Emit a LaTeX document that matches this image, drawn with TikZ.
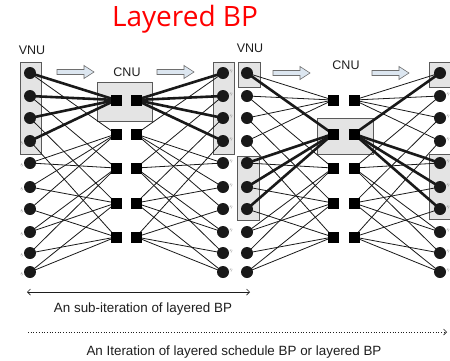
\documentclass[tikz,border=0pt]{standalone}
\usepackage{fontspec}
\setmainfont{Liberation Sans}
\newfontfamily\titlefont{Open Sans}
\usetikzlibrary{arrows.meta}
\definecolor{boxfill}{HTML}{E4E4E4}
\definecolor{boxline}{HTML}{5A5A5A}
\definecolor{arrowfill}{HTML}{DCE6F0}
\definecolor{arrowline}{HTML}{6E6E6E}
\definecolor{txt}{HTML}{1E1E1E}
\begin{document}
\begin{tikzpicture}[x=1pt,y=-1pt,
  vn/.style={circle,fill=black!90,inner sep=0pt,minimum size=12pt},
  cn/.style={rectangle,fill=black,inner sep=0pt,minimum size=11pt},
  thinedge/.style={line width=0.8pt,black!90},
  thickedge/.style={line width=2.6pt,black!90},
  unitbox/.style={draw=boxline,fill=boxfill,line width=0.8pt},
  lbl/.style={text=txt,font=\fontsize{12.5}{14}\selectfont,inner sep=0pt},
  caption/.style={text=txt,font=\fontsize{13.4}{15}\selectfont,inner sep=0pt},
  tiny/.style={text=black!55,font=\fontsize{3.5}{4}\selectfont,inner sep=0pt,rotate=60},
  flowarrow/.pic={\draw[fill=arrowfill,draw=arrowline,line width=0.6pt]
     (0,-2.5) -- (27,-2.5) -- (27,-6.5) -- (37,0) -- (27,6.5) -- (27,2.5) -- (0,2.5) -- cycle;}
]
\clip (0,0) rectangle (450,360);
\useasboundingbox (0,0) rectangle (450,360);

% ---- unit boxes (behind everything) ----
\draw[unitbox] (20,62) rectangle (41,154);
\draw[unitbox] (97,82) rectangle (152,121);
\draw[unitbox] (213,62) rectangle (234,154);
\draw[unitbox] (238,62) rectangle (260,87);
\draw[unitbox] (237,156) rectangle (259,220);
\draw[unitbox] (317,118) rectangle (373,154);
\draw[unitbox] (429,62) rectangle (452,87);
\draw[unitbox] (429,154) rectangle (452,219);

% ---- node positions ----
\foreach \i/\y in {1/73,2/96,3/118,4/141,5/163,6/187,7/209,8/232,9/253,10/272}{
  \coordinate (aL\i) at (30,\y);
  \coordinate (aR\i) at (223,\y);
  \coordinate (bL\i) at (247,\y);
  \coordinate (bR\i) at (440,\y);
}
\foreach \j/\y in {1/100,2/134,3/168,4/203,5/237}{
  \coordinate (aC\j) at (116,\y);
  \coordinate (aD\j) at (136,\y);
  \coordinate (bC\j) at (333,\y);
  \coordinate (bD\j) at (354,\y);
}

% ---- Tanner graph edges (parity-check rows) ----
\foreach \c/\vs in {1/{1,2,3,4},2/{1,5,6,7},3/{2,5,8,9},4/{3,6,8,10},5/{4,7,9,10}}{
  \foreach \v in \vs {
    \draw[thinedge] (aL\v) -- (aC\c);
    \draw[thinedge] (aD\c) -- (aR\v);
    \draw[thinedge] (bL\v) -- (bC\c);
    \draw[thinedge] (bD\c) -- (bR\v);
  }
}
% active layer: first row in the first sub-iteration, second row in the next
\foreach \v in {1,2,3,4}{
  \draw[thickedge] (aL\v) -- (aC1);
  \draw[thickedge] (aD1) -- (aR\v);
}
\foreach \v in {1,5,6,7}{
  \draw[thickedge] (bL\v) -- (bC2);
  \draw[thickedge] (bD2) -- (bR\v);
}

% ---- variable and check nodes on top of the edges ----
\foreach \i in {1,...,10}{
  \node[vn] (vA\i) at (aL\i) {};
  \node[vn] (vB\i) at (aR\i) {};
  \node[vn] (vC\i) at (bL\i) {};
  \node[vn] (vD\i) at (bR\i) {};
}
\foreach \j in {1,...,5}{
  \node[cn] (cA\j) at (aC\j) {};
  \node[cn] (cB\j) at (aD\j) {};
  \node[cn] (cC\j) at (bC\j) {};
  \node[cn] (cD\j) at (bD\j) {};
}

% ---- small bit labels beside the variable nodes ----
\foreach \i in {4,...,10}{ \node[tiny,anchor=east] (xa\i) at ([xshift=-7pt]aL\i) {$x$}; }
\foreach \i in {1,...,10}{ \node[tiny,anchor=west] (xb\i) at ([xshift=7pt]aR\i) {$x$}; }
\foreach \i in {2,...,10}{ \node[tiny,anchor=west] (xc\i) at ([xshift=7pt]bR\i) {$x$}; }

% ---- block arrows showing the message flow ----
\pic at (57,72) {flowarrow};
\pic at (157,72) {flowarrow};
\pic at (273,73) {flowarrow};
\pic at (372,73) {flowarrow};

% ---- titles and unit labels ----
\node[text=red,font=\titlefont\fontsize{28}{30}\selectfont,inner sep=0pt] (title) at (185,19) {Layered BP};
\node[lbl] (vnu1) at (32,50) {VNU};
\node[lbl] (vnu2) at (250,48) {VNU};
\node[lbl] (cnu1) at (127,72) {CNU};
\node[lbl] (cnu2) at (346,65) {CNU};

% ---- iteration spans ----
\coordinate (s1) at (27,292);
\coordinate (s2) at (250,292);
\draw[line width=0.7pt,txt,{Straight Barb[length=3pt,width=6pt]}-{Straight Barb[length=3pt,width=6pt]}] (s1) -- (s2);
\node[caption] (sub) at (143,309) {An sub-iteration of layered BP};
\coordinate (t1) at (28,332);
\coordinate (t2) at (447,332);
\draw[line width=0.7pt,txt,dotted,-{Straight Barb[length=3pt,width=6pt]}] (t1) -- (t2);
\node[caption] (iter) at (234,352) {An Iteration of layered schedule BP or layered BP};
\end{tikzpicture}
\end{document}
